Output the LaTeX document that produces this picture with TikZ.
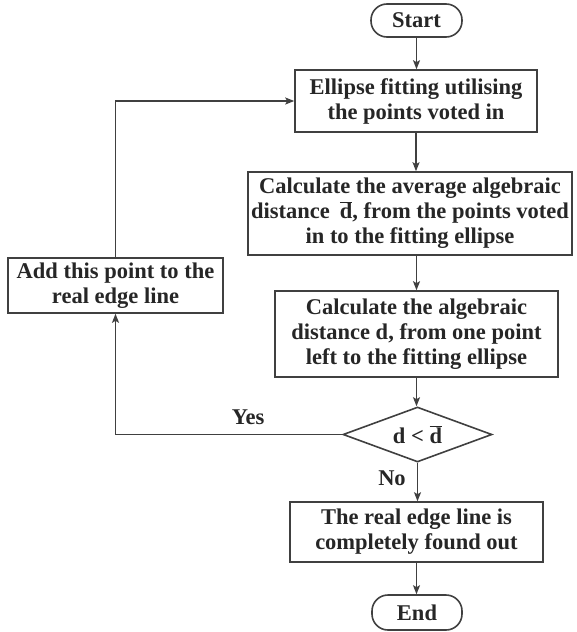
\documentclass[tikz,border=0pt]{standalone}
\usepackage{fontspec}
\setmainfont{Liberation Serif}
\usetikzlibrary{shapes.geometric,arrows.meta}
\definecolor{ln}{HTML}{404040}
\definecolor{tx}{HTML}{262626}
\newcommand{\dbar}{$\overline{\mbox{d}}$}
\begin{document}
\begin{tikzpicture}[x=1pt,y=-1pt,
 every node/.style={font=\fontsize{22.5}{25}\selectfont\bfseries, text=tx},
 box/.style={draw=ln, line width=1.6pt, inner sep=0pt, align=center},
 term/.style={box, rounded corners=16pt},
 dec/.style={draw=ln, line width=1.6pt, diamond, aspect=2.7, inner sep=0pt},
 arr/.style={draw=ln, line width=1.6pt, -{Stealth[length=9pt,width=7pt,inset=2pt]}},
 lbl/.style={inner sep=0pt}]
\useasboundingbox (0,0) rectangle (576,632);
\node[term, minimum width=91pt, minimum height=33pt] (start) at (416.5,20.5) {Start};
\node[box, minimum width=242pt, minimum height=62pt] (ell) at (416,101) {Ellipse fitting utilising\\the points voted in};
\node[box, minimum width=324pt, minimum height=83pt] (avg) at (410,213.5) {Calculate the average algebraic\\distance\hspace{0.45em}\dbar, from the points voted\\in to the fitting ellipse};
\node[box, minimum width=283pt, minimum height=86pt] (calc) at (416.5,334) {Calculate the algebraic\\distance d, from one point\\left to the fitting ellipse};
\node[dec, minimum width=149pt, minimum height=55pt] (dec) at (417.5,434.5) {d < \dbar};
\node[box, minimum width=253pt, minimum height=60pt] (fin) at (416.5,532) {The real edge line is\\completely found out};
\node[term, minimum width=90pt, minimum height=35pt] (end) at (417,612.5) {End};
\node[box, minimum width=215pt, minimum height=55pt] (add) at (115.5,285.5) {Add this point to the\\real edge line};
\node[lbl] (yes) at (248,417) {Yes};
\node[lbl] (no) at (392,478) {No};
\draw[arr] (start.south) -- (start.south |- ell.north);
\draw[arr] (ell.south) -- (ell.south |- avg.north);
\draw[arr] (calc.north |- avg.south) -- (calc.north);
\draw[arr] (calc.south) -- (calc.south |- dec.north);
\draw[arr] (dec.south) -- (dec.south |- fin.north);
\draw[arr] (fin.south) -- (fin.south |- end.north);
\draw[arr] (dec.west) -| (add.south);
\draw[arr] (add.north) |- (ell.west);
\end{tikzpicture}
\end{document}
